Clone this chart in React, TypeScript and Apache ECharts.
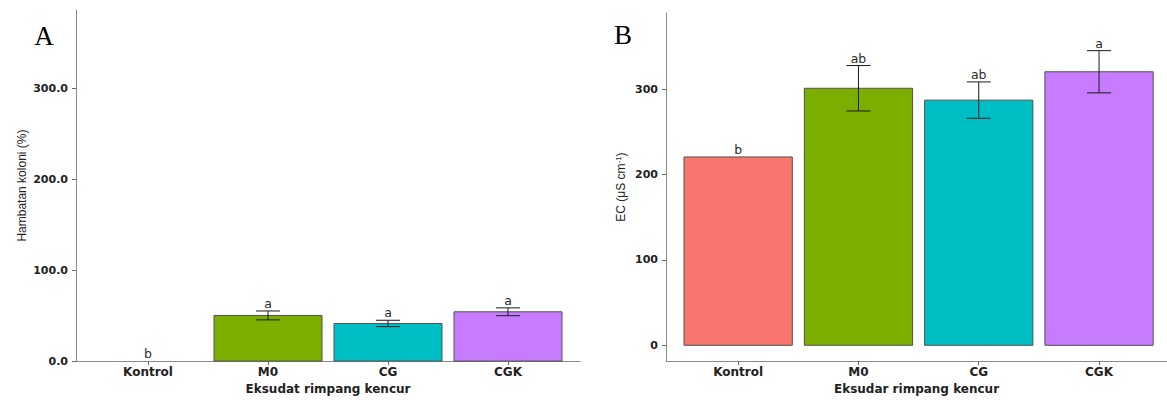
import React, { useEffect, useRef } from "react";
import * as echarts from "echarts";

const categories = ["Kontrol", "M0", "CG", "CGK"];
const barColors = ["#F8766D", "#7CAE00", "#00BFC4", "#C77CFF"];

const inhibitionMean = [0, 50.2, 41.4, 54.2];
const inhibitionSE = [0, 4.9, 3.5, 4.3];
const inhibitionLetters = ["b", "a", "a", "a"];

const ecMean = [220.5, 300.9, 287.0, 320.2];
const ecSE = [0, 26.6, 21.3, 24.7];
const ecLetters = ["b", "ab", "ab", "a"];

const yTicksA = [0, 100, 200, 300];
const yTicksB = [0, 100, 200, 300];
const xTicks = [1, 2, 3, 4];

const SANS_BOLD = "DejaVu Sans";
const SANS = "Liberation Sans";

function makeRender(letters: string[]) {
  return (params: any, api: any) => {
    const x = api.value(0);
    const y = api.value(1);
    const se = api.value(2);
    const idx = params.dataIndex;
    const p0 = api.coord([x - 0.45, y]);
    const p1 = api.coord([x + 0.45, 0]);
    const children: any[] = [];
    if (Math.abs(p1[1] - p0[1]) > 0.5) {
      children.push({
        type: "rect",
        shape: { x: p0[0], y: p0[1], width: p1[0] - p0[0], height: p1[1] - p0[1] },
        style: { fill: barColors[idx], stroke: "#505050", lineWidth: 1 },
      });
    }
    let topVal = y;
    if (se > 0) {
      const t = api.coord([x, y + se]);
      const b = api.coord([x, y - se]);
      const cl = api.coord([x - 0.1, y + se]);
      const cr = api.coord([x + 0.1, y + se]);
      const bl = api.coord([x - 0.1, y - se]);
      const br = api.coord([x + 0.1, y - se]);
      const ls = { stroke: "#1a1a1a", lineWidth: 1 };
      children.push({ type: "line", shape: { x1: t[0], y1: t[1], x2: b[0], y2: b[1] }, style: ls });
      children.push({ type: "line", shape: { x1: cl[0], y1: cl[1], x2: cr[0], y2: cr[1] }, style: ls });
      children.push({ type: "line", shape: { x1: bl[0], y1: bl[1], x2: br[0], y2: br[1] }, style: ls });
      topVal = y + se;
    }
    const lp = api.coord([x, topVal]);
    children.push({
      type: "text",
      x: lp[0],
      y: lp[1] - 1,
      style: {
        text: letters[idx],
        fill: "#2b2b2b",
        fontSize: 12.5,
        fontFamily: "DejaVu Sans",
        align: "center",
        verticalAlign: "bottom",
      },
    });
    return { type: "group", children };
  };
}

const axisLineStyle = { color: "#8a8a8a", width: 1 };

function xAxisCfg(gridIndex: number, max: number, name: string) {
  return {
    type: "value",
    gridIndex,
    min: 0.4,
    max,
    name,
    nameLocation: "middle",
    nameGap: 20,
    nameTextStyle: { fontFamily: SANS_BOLD, fontWeight: "bold", fontSize: 12, color: "#222" },
    splitLine: { show: false },
    axisLine: { show: true, onZero: false, lineStyle: axisLineStyle },
    axisTick: { show: true, length: 4, customValues: xTicks, lineStyle: { color: "#666" } },
    axisLabel: {
      customValues: xTicks,
      margin: 5,
      fontFamily: SANS_BOLD,
      fontWeight: "bold",
      fontSize: 12,
      color: "#222",
      formatter: (v: number) => categories[Math.round(v) - 1] ?? "",
    },
  };
}

function yAxisCfg(gridIndex: number, min: number, max: number, ticks: number[], name: any, nameGap: number, fmt: (v: number) => string) {
  return {
    type: "value",
    gridIndex,
    min,
    max,
    name,
    nameLocation: "middle",
    nameGap,
    nameTextStyle: {
      fontFamily: SANS,
      fontSize: 12,
      color: "#222",
      rich: {
        sup: { fontFamily: SANS, fontSize: 8, color: "#222", verticalAlign: "top", padding: [0, 0, 6, 0] },
      },
    },
    splitLine: { show: false },
    axisLine: { show: true, onZero: false, lineStyle: axisLineStyle },
    axisTick: { show: true, length: 4, customValues: ticks, lineStyle: { color: "#666" } },
    axisLabel: {
      customValues: ticks,
      margin: 8,
      fontFamily: SANS_BOLD,
      fontWeight: "bold",
      fontSize: 11,
      color: "#222",
      formatter: fmt,
    },
  };
}

export default function App() {
  const ref = useRef<HTMLDivElement>(null);
  useEffect(() => {
    document.body.style.margin = "0";
    const chart = echarts.init(ref.current!, null, { renderer: "svg" });
    const dataA = categories.map((_, i) => [i + 1, inhibitionMean[i], inhibitionSE[i]]);
    const dataB = categories.map((_, i) => [i + 1, ecMean[i], ecSE[i]]);
    chart.setOption({
      animation: false,
      backgroundColor: "#fff",
      grid: [
        { left: 76, width: 504, top: 10, bottom: 35 },
        { left: 666, right: 0, top: 13, bottom: 35 },
      ],
      xAxis: [
        xAxisCfg(0, 4.6, "Eksudat rimpang kencur"),
        xAxisCfg(1, 4.565, "Eksudar rimpang kencur"),
      ],
      yAxis: [
        yAxisCfg(0, 0, 386, yTicksA, "Hambatan koloni (%)", 48, (v: number) => v.toFixed(1)),
        yAxisCfg(1, -18.5, 389, yTicksB, "EC (μS cm{sup|-1})", 38, (v: number) => String(v)),
      ],
      graphic: [
        {
          type: "text",
          x: 44,
          y: 36,
          style: { text: "A", fontFamily: "Liberation Serif", fontSize: 27, fill: "#000", align: "center", verticalAlign: "middle" },
        },
        {
          type: "text",
          x: 623,
          y: 35,
          style: { text: "B", fontFamily: "Liberation Serif", fontSize: 27, fill: "#000", align: "center", verticalAlign: "middle" },
        },
      ],
      series: [
        {
          type: "custom",
          xAxisIndex: 0,
          yAxisIndex: 0,
          itemStyle: { color: "#2b2b2b" },
          data: dataA,
          encode: { x: 0, y: 1 },
          renderItem: makeRender(inhibitionLetters),
        },
        {
          type: "custom",
          xAxisIndex: 1,
          yAxisIndex: 1,
          itemStyle: { color: "#2b2b2b" },
          data: dataB,
          encode: { x: 0, y: 1 },
          renderItem: makeRender(ecLetters),
        },
      ],
    });
    return () => chart.dispose();
  }, []);
  return <div ref={ref} style={{ width: 1167, height: 400 }} />;
}
